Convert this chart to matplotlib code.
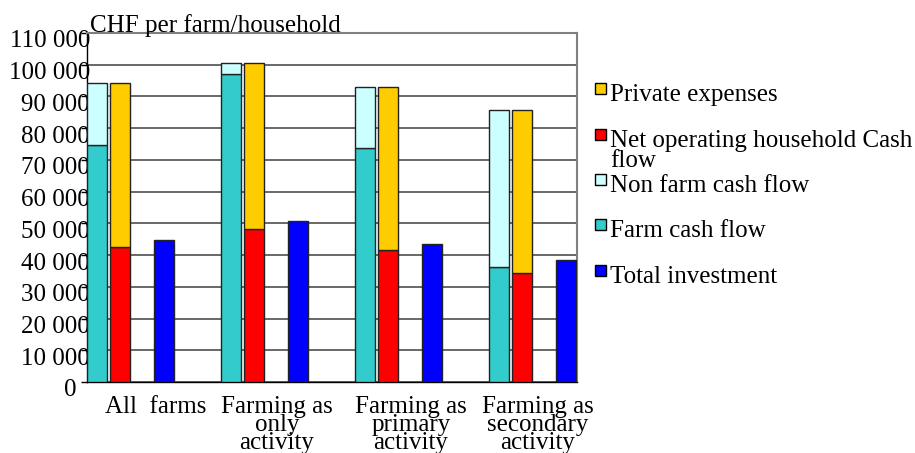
import matplotlib
matplotlib.use("Agg")
import matplotlib.pyplot as plt
import matplotlib.transforms as mtransforms
from matplotlib.patches import Rectangle
from matplotlib.ticker import FuncFormatter
import numpy as np

# ---- data ----
categories = ["All  farms", "Farming as\nonly\nactivity", "Farming as\nprimary\nactivity",
              "Farming as\nsecondary\nactivity"]
farm_cash_flow = [74700, 97000, 73700, 36400]
non_farm_cash_flow = [19400, 3600, 19200, 49200]
net_operating_cf = [42500, 48200, 41600, 34200]
private_expenses = [51600, 52400, 51300, 51400]
total_investment = [44700, 50600, 43400, 38300]
y_ticks = list(range(0, 110001, 10000))

legend_labels = ["Private expenses", "Net operating household Cash\nflow",
                 "Non farm cash flow", "Farm cash flow", "Total investment"]

# ---- style ----
W, H = 915, 453
c_private = "#FFCC00"
c_net = "#FF0000"
c_nonfarm = "#CCFFFF"
c_farm = "#33CCCC"
c_inv = "#0000FF"
edge = "#222222"
FONT = "Liberation Serif"
FS = 18

plt.rcParams["font.family"] = [FONT, "DejaVu Serif"]

fig = plt.figure(figsize=(W / 100, H / 100), dpi=100)
ax = fig.add_axes([87 / W, (H - 382) / H, (577 - 87) / W, (382 - 33) / H])

x = np.arange(len(categories))
bw = 0.15
off_teal, off_red, off_blue = 0.075, 0.246, 0.575

ax.bar(x + off_teal, farm_cash_flow, bw, color=c_farm, edgecolor=edge, linewidth=1, zorder=3)
ax.bar(x + off_teal, non_farm_cash_flow, bw, bottom=farm_cash_flow, color=c_nonfarm,
       edgecolor=edge, linewidth=1, zorder=3)
ax.bar(x + off_red, net_operating_cf, bw, color=c_net, edgecolor=edge, linewidth=1, zorder=3)
ax.bar(x + off_red, private_expenses, bw, bottom=net_operating_cf, color=c_private,
       edgecolor=edge, linewidth=1, zorder=3)
ax.bar(x + off_blue, total_investment, bw, color=c_inv, edgecolor=edge, linewidth=1, zorder=3)

ax.set_xlim(0, 490 / 134)
ax.set_ylim(0, 110000)

# grid
ax.set_yticks(y_ticks)
ax.yaxis.set_major_formatter(FuncFormatter(lambda v, p: f"{int(v):,}".replace(",", " ")))
ax.grid(axis="y", color="#404040", linewidth=1.1, zorder=0)
ax.grid(axis="x", visible=False)
for s in ["top", "right"]:
    ax.spines[s].set_color("#808080")
    ax.spines[s].set_linewidth(1.5)
for s in ["left", "bottom"]:
    ax.spines[s].set_color("black")
    ax.spines[s].set_linewidth(1)

ax.tick_params(axis="y", direction="out", length=4.3, width=1, pad=-6.5, labelsize=FS)
ax.tick_params(axis="x", length=0, pad=10, labelsize=FS)

label_pos = [0.515, 1.418, 2.418, 3.366]
ax.set_xticks(label_pos)
ax.set_xticklabels(categories, va="top", ha="center")
for lab in ax.get_xticklabels():
    lab.set_linespacing(0.78)

# shift y tick labels down slightly
for lab in ax.get_yticklabels():
    lab.set_transform(lab.get_transform() + mtransforms.ScaledTranslation(0, -6 / 100, fig.dpi_scale_trans))
fig.canvas.draw()
labs = ax.get_yticklabels()
labs[0].set_transform(labs[0].get_transform() + mtransforms.ScaledTranslation(-14 / 100, 0, fig.dpi_scale_trans))

# axis title
fig.text(90 / W, (H - 32) / H, "CHF per farm/household", fontsize=FS, ha="left", va="baseline")

# legend (manual)
leg_colors = [c_private, c_net, c_nonfarm, c_farm, c_inv]
baselines = [101, 147, 192, 237, 283]
for lbl, col, bl in zip(legend_labels, leg_colors, baselines):
    sq = 11
    fig.add_artist(Rectangle((595 / W, (H - (bl - 7)) / H), sq / W, sq / H,
                             transform=fig.transFigure, facecolor=col, edgecolor="black",
                             linewidth=1))
    fig.text(610 / W, (H - bl) / H, lbl.split("\n")[0], fontsize=FS, ha="left", va="baseline")
    if "\n" in lbl:
        fig.text(610 / W, (H - bl - 20) / H, lbl.split("\n")[1], fontsize=FS,
                 ha="left", va="baseline")

fig.savefig("out.png", dpi=100)
